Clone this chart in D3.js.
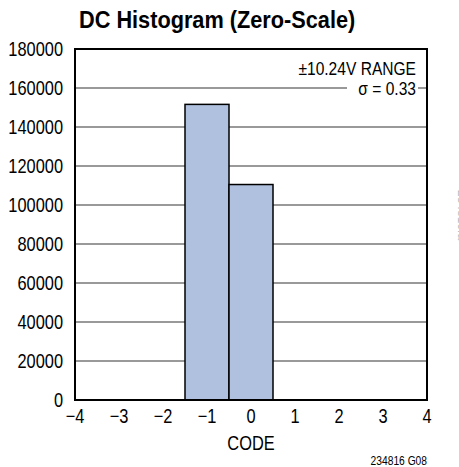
<html><body style="margin:0;background:#fff">
<div id="chart"></div>
<script src="https://cdn.jsdelivr.net/npm/d3@7"></script>
<script>
var codes = [-1, 0];
var counts = [151600, 110500];
var xTicks = [-4, -3, -2, -1, 0, 1, 2, 3, 4];
var yTicks = [0, 20000, 40000, 60000, 80000, 100000, 120000, 140000, 160000, 180000];

var W = 459, H = 467;
var m = {left: 75, right: 32, top: 49, bottom: 67};
var SX = 0.82; // fake condensed face

var svg = d3.select("#chart").append("svg")
  .attr("width", W).attr("height", H)
  .style("font-family", "'Liberation Sans', Arial, sans-serif");

var x = d3.scaleLinear().domain([-4, 4]).range([m.left, W - m.right]);
var y = d3.scaleLinear().domain([0, 180000]).range([H - m.bottom, m.top]);

function label(g, px, py, txt, size, anchor, sx) {
  return g.append("text")
    .attr("transform", "translate(" + px + "," + py + ") scale(" + (sx || SX) + ",1)")
    .attr("text-anchor", anchor || "start")
    .style("font-size", size + "px")
    .text(txt);
}

// gridlines
svg.append("g").selectAll("line").data(yTicks.slice(1, -1)).enter().append("line")
  .attr("x1", x(-4)).attr("x2", x(4))
  .attr("y1", function(d) { return y(d); }).attr("y2", function(d) { return y(d); })
  .attr("stroke", "#777").attr("stroke-width", 1.3);

// bars
svg.append("g").selectAll("rect").data(codes).enter().append("rect")
  .attr("x", function(d) { return x(d - 0.5); })
  .attr("width", function(d) { return x(d + 0.5) - x(d - 0.5); })
  .attr("y", function(d, i) { return y(counts[i]); })
  .attr("height", function(d, i) { return y(0) - y(counts[i]); })
  .attr("fill", "#b0c1df").attr("stroke", "#000").attr("stroke-width", 1.5);

// annotation
svg.append("rect").attr("x", 347).attr("y", 80).attr("width", 71).attr("height", 18).attr("fill", "#fff");
label(svg, 416, 75, "±10.24V RANGE", 19, "end");
label(svg, 416, 95, "σ = 0.33", 19, "end");

// frame
svg.append("rect").attr("x", x(-4)).attr("y", y(180000))
  .attr("width", x(4) - x(-4)).attr("height", y(0) - y(180000))
  .attr("fill", "none").attr("stroke", "#000").attr("stroke-width", 2);

// y tick labels
var gy = svg.append("g");
yTicks.forEach(function(d) { label(gy, 63, y(d) + 7, d, 20, "end"); });

// x tick labels
var gx = svg.append("g");
xTicks.forEach(function(d) { label(gx, x(d), 423, d < 0 ? "\u2212" + (-d) : d, 20, "middle"); });

label(svg, x(0), 450, "CODE", 20, "middle");

label(svg, 79, 28, "DC Histogram (Zero-Scale)", 24, "start", 0.905).style("font-weight", "bold");

label(svg, 427, 465, "234816 G08", 12.5, "end");

svg.append("text").attr("transform", "translate(458,190) rotate(90)")
  .style("font-size", "12px").attr("fill", "#bbb").text("234816fa");
</script>
</body></html>
